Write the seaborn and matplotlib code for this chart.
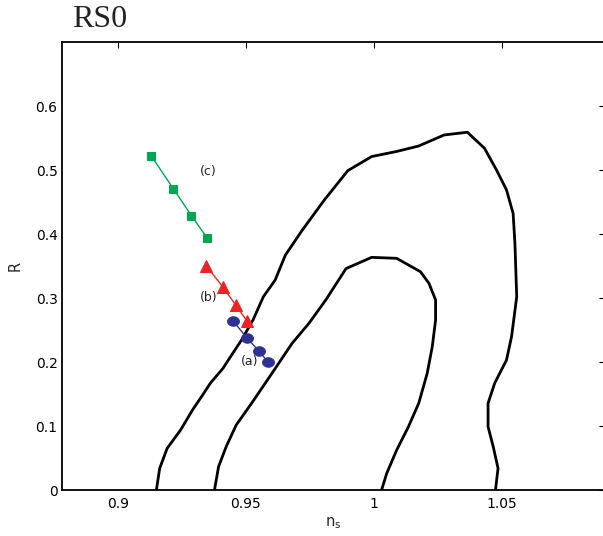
import numpy as np
import pandas as pd
import matplotlib
matplotlib.use("Agg")
import matplotlib.pyplot as plt
from matplotlib.path import Path
import seaborn as sns

# ---- data ----
outer_ns = [0.9150, 0.9163, 0.9192, 0.9245, 0.9291, 0.9330, 0.9361, 0.9410, 0.9436,
            0.9482, 0.9528, 0.9568, 0.9614, 0.9654, 0.9720, 0.9806, 0.9898, 0.9991,
            1.0089, 1.0175, 1.0274, 1.0365, 1.0432, 1.0479, 1.0518, 1.0544, 1.0551,
            1.0558, 1.0538, 1.0518, 1.0472, 1.0446, 1.0446, 1.0466, 1.0485, 1.0475]
outer_r = [0.000, 0.034, 0.065, 0.094, 0.125, 0.148, 0.167, 0.190, 0.206,
           0.234, 0.266, 0.302, 0.328, 0.367, 0.406, 0.453, 0.499, 0.521,
           0.529, 0.5375, 0.5547, 0.559, 0.534, 0.500, 0.469, 0.432, 0.385,
           0.302, 0.240, 0.203, 0.167, 0.1355, 0.099, 0.068, 0.034, 0.000]

inner_ns = [0.9377, 0.9393, 0.9423, 0.9462, 0.9522, 0.9601, 0.9680, 0.9746, 0.9812,
            0.9891, 0.9991, 1.0089, 1.0182, 1.0215, 1.0241, 1.0241, 1.0228, 1.0208,
            1.0175, 1.0135, 1.0089, 1.0050, 1.0030]
inner_r = [0.000, 0.0365, 0.068, 0.1016, 0.1355, 0.182, 0.229, 0.2604, 0.297,
           0.346, 0.3635, 0.362, 0.341, 0.323, 0.297, 0.2656, 0.224, 0.182,
           0.1355, 0.099, 0.0625, 0.026, 0.000]

a_ns = [0.9450, 0.9503, 0.9551, 0.9587]
a_r = [0.264, 0.238, 0.217, 0.1995]
b_ns = [0.9344, 0.9409, 0.9460, 0.9504]
b_r = [0.3505, 0.3177, 0.289, 0.264]
c_ns = [0.9130, 0.9216, 0.9287, 0.9348]
c_r = [0.522, 0.471, 0.4286, 0.394]

labels = ["(a)", "(b)", "(c)"]
label_ns = [0.9516, 0.9356, 0.9351]
label_r = [0.200, 0.300, 0.498]

xticks = [0.9, 0.95, 1.0, 1.05]
xticklabels = ["0.9", "0.95", "1", "1.05"]
yticks = [0, 0.1, 0.2, 0.3, 0.4, 0.5, 0.6]
yticklabels = ["0", "0.1", "0.2", "0.3", "0.4", "0.5", "0.6"]

# ---- plot ----
sns.set_theme(style="white")
plt.rcParams['font.family'] = ['DejaVu Sans']
plt.rcParams['mathtext.fontset'] = 'dejavusans'

# slightly wide ellipse marker (as in the reference)
_t = np.linspace(0, 2 * np.pi, 40)
ellipse = Path(np.column_stack([np.cos(_t), 0.8 * np.sin(_t)]), closed=True)

fig = plt.figure(figsize=(6.03, 5.36), dpi=100)
ax = fig.add_axes([61.7 / 603, 46 / 536, (604.5 - 61.7) / 603, 448 / 536])

for xs, ys in [(outer_ns, outer_r), (inner_ns, inner_r)]:
    df = pd.DataFrame({"ns": xs, "R": ys})
    sns.lineplot(data=df, x="ns", y="R", sort=False, estimator=None,
                 color="black", lw=2.0, ax=ax)

series = [
    (a_ns, a_r, "#2e3192", ellipse, 8.5),
    (b_ns, b_r, "#ee2222", "^", 8.5),
    (c_ns, c_r, "#00a651", "s", 6.0),
]
for xs, ys, col, mk, ms in series:
    df = pd.DataFrame({"ns": xs, "R": ys})
    sns.lineplot(data=df, x="ns", y="R", sort=False, estimator=None,
                 color=col, lw=1.0, marker=mk, markersize=ms,
                 markeredgecolor=col, markerfacecolor=col, ax=ax)

for t, x, y in zip(labels, label_ns, label_r):
    ax.text(x, y, t, fontsize=9, ha="center", va="center", color="#222222")

ax.set_xlim(0.878, 1.0901)
ax.set_ylim(0, 0.7)
ax.set_xticks(xticks)
ax.set_xticklabels(xticklabels)
ax.set_yticks(yticks)
ax.set_yticklabels(yticklabels)
ax.tick_params(direction="in", length=4, width=0.8, top=True, right=True,
               labelsize=10, colors="black", pad=5)
ax.tick_params(axis="y", pad=3)
for s in ax.spines.values():
    s.set_color("black")
    s.set_linewidth(1.3)

ax.set_xlabel(r"$\mathregular{n_s}$", fontsize=10.5, labelpad=3)
ax.set_ylabel("R", fontsize=10.5, labelpad=9)

fig.text(72 / 603, 1 - 27 / 536, "RS0", fontsize=23, family="Liberation Serif",
         ha="left", va="baseline", color="#222222")

fig.savefig("out.png", dpi=100)
